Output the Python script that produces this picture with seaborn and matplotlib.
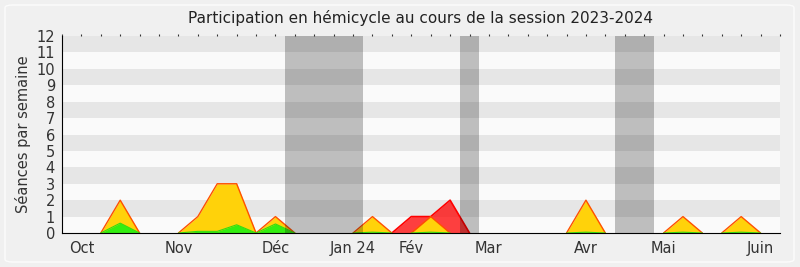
import numpy as np
import pandas as pd
import matplotlib
matplotlib.use("Agg")
import matplotlib.pyplot as plt
import seaborn as sns
from matplotlib.patches import FancyBboxPatch

# ---- data (weekly index) ----
weeks = list(range(38))
presence = [0, 0, 0, 2, 0, 0, 0, 1, 3, 3, 0, 1, 0, 0, 0, 0, 1, 0, 0, 1,
            0, 0, 0, 0, 0, 0, 0, 2, 0, 0, 0, 0, 1, 0, 0, 1, 0, 0]
interventions = [0, 0, 0, 0.6, 0, 0, 0, 0.1, 0.1, 0.5, 0, 0.55, 0, 0, 0, 0, 0.05, 0, 0, 0.05,
                 0, 0, 0, 0, 0, 0, 0, 0.05, 0, 0, 0, 0, 0.05, 0, 0, 0.05, 0, 0]
commission = [0, 0, 0, 0, 0, 0, 0, 0, 0, 0, 0, 0, 0, 0, 0, 0, 0, 0, 1, 1,
              2, 0, 0, 0, 0, 0, 0, 0, 0, 0, 0, 0, 0, 0, 0, 0, 0, 0]
vacances = [(11.5, 15.5), (20.5, 21.5), (28.5, 30.5)]
month_labels = ["Oct", "Nov", "Déc", "Jan 24", "Fév", "Mar", "Avr", "Mai", "Juin"]
month_weeks = [1, 6, 11, 15, 18, 22, 27, 31, 36]

df = pd.DataFrame({"semaine": weeks, "presence": presence,
                   "interventions": interventions, "commission": commission})


def segments(col):
    """Long table of the non-zero stretches (with their zero neighbours), one unit per stretch."""
    v = df[col].to_numpy(dtype=float)
    n = len(v)
    rows, seg, i = [], 0, 0
    while i < n:
        if v[i] > 0:
            j = i
            while j + 1 < n and v[j + 1] > 0:
                j += 1
            seg += 1
            for k in range(max(i - 1, 0), min(j + 1, n - 1) + 1):
                rows.append((weeks[k], v[k], seg))
            i = j + 1
        else:
            i += 1
    return pd.DataFrame(rows, columns=["semaine", "valeur", "segment"])


sns.set_style("white")
plt.rcParams['font.family'] = ['DejaVu Sans']

fig = plt.figure(figsize=(8, 2.67), dpi=100, facecolor="#F0F0F0")
ax = fig.add_axes([62/800, 1-233/267, (780-62)/800, (233-36)/267])
ax.set_facecolor("#FAFAFA")

# horizontal bands
for k in range(1, 12, 2):
    ax.axhspan(k, k+1, color="#E6E6E6", lw=0, zorder=0)

layers = [("commission", "#FF0000", 0.75, "#FF0000", 1.2, 2),
          ("presence", "#FFD20A", 1.0, "#FF5000", 1.0, 3),
          ("interventions", "#33EE11", 1.0, "#33DD11", 0.8, 4)]
for col, fc, al, ec, lw, z in layers:
    seg = segments(col)
    for _, g in seg.groupby("segment"):
        ax.fill_between(g["semaine"], g["valeur"], color=fc, alpha=al, lw=0, zorder=z)
    sns.lineplot(data=seg, x="semaine", y="valeur", units="segment", estimator=None,
                 sort=False, ax=ax, color=ec, lw=lw, zorder=z + 0.5)

for a, b in vacances:
    ax.axvspan(a, b, color="black", alpha=0.24, lw=0, zorder=5)

ax.set_xlim(0, 37)
ax.set_ylim(0, 12)
ax.set_yticks(range(13))
ax.set_xticks(month_weeks)
ax.set_xticklabels(month_labels)
ax.set_xticks(weeks, minor=True)
ax.tick_params(axis="x", which="both", direction="out", length=4, width=0.8, color="#333333",
               labelsize=10.5, labelcolor="#333333", pad=2)
ax.tick_params(axis="x", which="both", top=True)
for t in ax.xaxis.get_major_ticks() + ax.xaxis.get_minor_ticks():
    t.tick2line.set_markersize(1.5)
ax.tick_params(axis="y", direction="out", length=4, width=0.8, labelsize=10.5,
               labelcolor="#333333", pad=1)
ax.set_xlabel("")
ax.set_ylabel("Séances par semaine", fontsize=10.5, color="#333333", labelpad=4)
ax.set_title("Participation en hémicycle au cours de la session 2023-2024",
             fontsize=11, color="#222222", pad=9)
for s in ["top", "right"]:
    ax.spines[s].set_visible(False)
ax.spines["left"].set_color("black")
ax.spines["bottom"].set_color("black")
ax.spines["left"].set_zorder(6)
ax.spines["bottom"].set_zorder(6)

border = FancyBboxPatch((5/800, 5/267), 789/800, 257/267,
                        boxstyle="round,pad=0,rounding_size=0.01",
                        transform=fig.transFigure, facecolor="none",
                        edgecolor="#FCFCFC", lw=1, zorder=-1)
fig.patches.append(border)

fig.savefig("out.png", dpi=100, facecolor=fig.get_facecolor())
